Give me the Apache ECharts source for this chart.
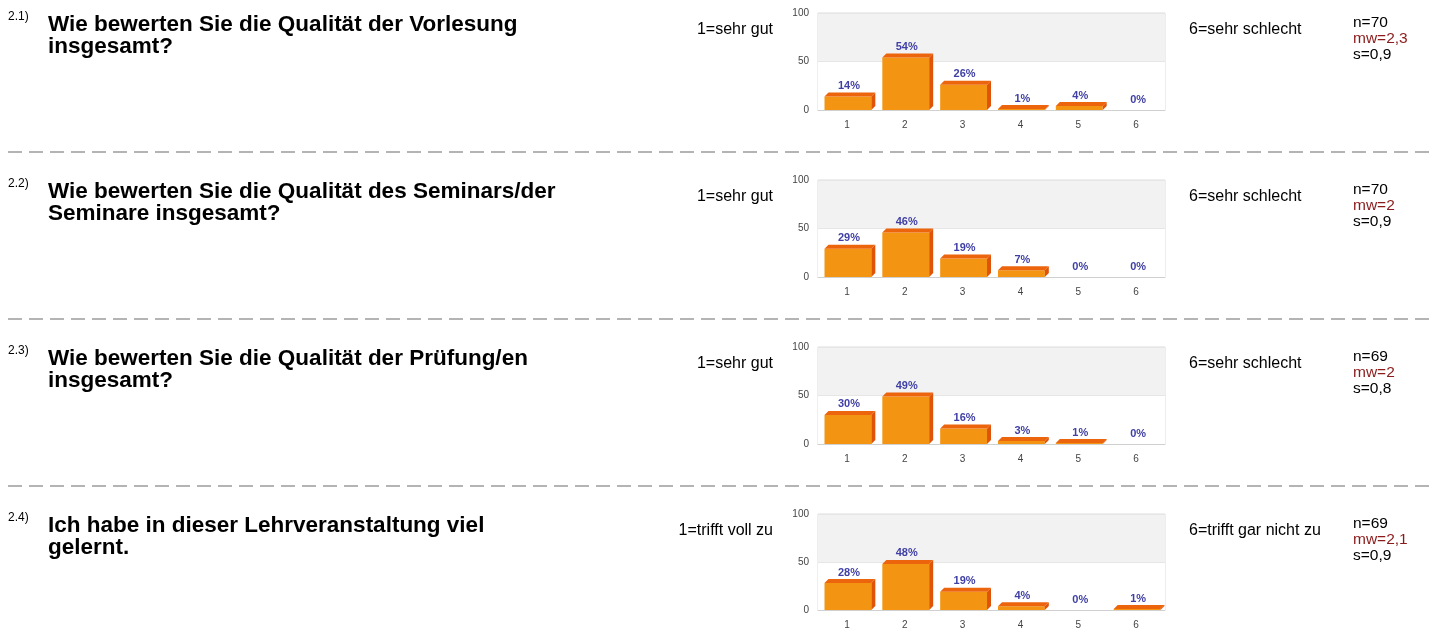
<!DOCTYPE html>
<html>
<head>
<meta charset="utf-8">
<script src="https://cdn.jsdelivr.net/npm/echarts@6/dist/echarts.min.js"></script>
<style>
  html, body { margin: 0; padding: 0; background: #fff; }
  #chart { width: 1431px; height: 630px; }
</style>
</head>
<body>
<div id="chart"></div>
<script>
// answer categories and tick labels
const categories = ["1", "2", "3", "4", "5", "6"];
const yTicks = [0, 50, 100];

// percentages per question
const q1Values = [14, 54, 26, 1, 4, 0];
const q2Values = [29, 46, 19, 7, 0, 0];
const q3Values = [30, 49, 16, 3, 1, 0];
const q4Values = [28, 48, 19, 4, 0, 1];

const numbers = ["2.1)", "2.2)", "2.3)", "2.4)"];
const questions = [
  "Wie bewerten Sie die Qualität der Vorlesung\ninsgesamt?",
  "Wie bewerten Sie die Qualität des Seminars/der\nSeminare insgesamt?",
  "Wie bewerten Sie die Qualität der Prüfung/en\ninsgesamt?",
  "Ich habe in dieser Lehrveranstaltung viel\ngelernt."
];
const leftLabels = ["1=sehr gut", "1=sehr gut", "1=sehr gut", "1=trifft voll zu"];
const rightLabels = ["6=sehr schlecht", "6=sehr schlecht", "6=sehr schlecht", "6=trifft gar nicht zu"];
const nValues = ["n=70", "n=70", "n=69", "n=69"];
const mwValues = ["mw=2,3", "mw=2", "mw=2", "mw=2,1"];
const sValues = ["s=0,9", "s=0,9", "s=0,8", "s=0,9"];

const allValues = [q1Values, q2Values, q3Values, q4Values];

const FONT = "'Liberation Sans', Arial, sans-serif";
const ROW = 167;

function renderBar(params, api) {
  const v = api.value(1);
  const base = api.coord([api.value(0), 0]);
  const top = api.coord([api.value(0), v]);
  const band = api.size([1, 0])[0];
  const w = band * 0.81, d = 4;
  const x0 = base[0] - w / 2 + 1;
  const children = [];
  if (v > 0) {
    const ty = Math.min(top[1], base[1] - 1);
    children.push({
      type: "rect",
      shape: { x: x0, y: ty, width: w, height: base[1] - ty },
      style: { fill: "#f39512" }
    });
    children.push({
      type: "polygon",
      shape: { points: [[x0, ty], [x0 + d, ty - d], [x0 + w + d, ty - d], [x0 + w, ty]] },
      style: { fill: "#ec650c" }
    });
    children.push({
      type: "polygon",
      shape: { points: [[x0 + w, ty], [x0 + w + d, ty - d], [x0 + w + d, base[1] - d], [x0 + w, base[1]]] },
      style: { fill: "#e0540a" }
    });
  }
  children.push({
    type: "text",
    style: {
      x: x0 + w / 2 + 1, y: top[1] - d - 1,
      text: v + "%", fill: "#3f3fa5",
      font: "bold 11px " + FONT,
      align: "center", verticalAlign: "bottom"
    }
  });
  return { type: "group", children: children };
}

const grids = [], xAxes = [], yAxes = [], series = [], graphics = [];
allValues.forEach((vals, i) => {
  const off = ROW * i;
  grids.push({ left: 818, top: 13 + off, width: 347, height: 97, show: true, borderColor: "#dcdcdc", borderWidth: 1 });
  xAxes.push({
    type: "category", data: categories, gridIndex: i,
    axisLine: { lineStyle: { color: "#d0d0d0" } }, axisTick: { show: false },
    axisLabel: { fontSize: 10, color: "#444", margin: 10, fontFamily: FONT }
  });
  yAxes.push({
    type: "value", gridIndex: i, min: yTicks[0], max: yTicks[2], interval: 50,
    axisLine: { show: false }, axisTick: { show: false },
    axisLabel: { fontSize: 10, color: "#444", margin: 9, fontFamily: FONT },
    splitLine: { lineStyle: { color: "#e6e6e6" } },
    splitArea: { show: true, areaStyle: { color: ["#ffffff", "#f2f2f2"] } }
  });
  series.push({
    type: "custom", xAxisIndex: i, yAxisIndex: i,
    data: vals.map((v, k) => [k, v]),
    renderItem: renderBar, clip: false
  });

  graphics.push(
    { type: "text", left: 8, top: 11 + off, style: { text: numbers[i], font: "12px " + FONT, fill: "#000" } },
    { type: "text", left: 48, top: 13 + off, style: { text: questions[i], font: "bold 22.5px " + FONT, lineHeight: 22, fill: "#000" } },
    { type: "text", right: 1431 - 773, top: 22 + off, style: { text: leftLabels[i], font: "16px " + FONT, fill: "#000" } },
    { type: "text", left: 1189, top: 22 + off, style: { text: rightLabels[i], font: "16px " + FONT, fill: "#000" } },
    { type: "text", left: 1353, top: 15 + off, style: { text: nValues[i], font: "15.5px " + FONT, fill: "#000" } },
    { type: "text", left: 1353, top: 31 + off, style: { text: mwValues[i], font: "15.5px " + FONT, fill: "#8b1a1a" } },
    { type: "text", left: 1353, top: 47 + off, style: { text: sValues[i], font: "15.5px " + FONT, fill: "#000" } }
  );
  if (i < 3) {
    graphics.push({
      type: "line",
      shape: { x1: 8, y1: 152 + off, x2: 1431, y2: 152 + off },
      style: { stroke: "#9c9c9c", lineWidth: 1.5, lineDash: [14, 7] }
    });
  }
});

const chart = echarts.init(document.getElementById("chart"));
chart.setOption({
  animation: false,
  grid: grids,
  xAxis: xAxes,
  yAxis: yAxes,
  series: series,
  graphic: graphics
});
</script>
</body>
</html>
